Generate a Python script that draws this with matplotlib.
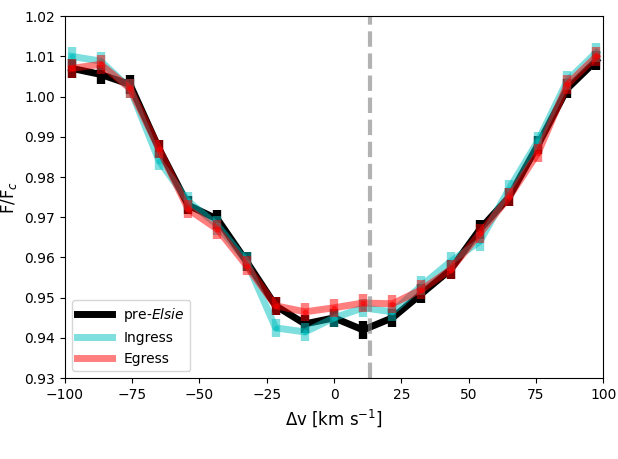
import numpy as np
import matplotlib
matplotlib.use("Agg")
import matplotlib.pyplot as plt

dv = np.array([-97.5, -86.7, -75.8, -65.0, -54.2, -43.3, -32.5, -21.7, -10.8, 0.0,
               10.8, 21.7, 32.5, 43.3, 54.2, 65.0, 75.8, 86.7, 97.5])
pre = [1.007, 1.0055, 1.003, 0.987, 0.973, 0.9695, 0.959, 0.948, 0.9435, 0.945,
       0.942, 0.945, 0.951, 0.957, 0.967, 0.975, 0.988, 1.002, 1.009]
ingress = [1.010, 1.0088, 1.002, 0.984, 0.974, 0.968, 0.959, 0.9425, 0.9415, 0.945,
           0.9475, 0.9465, 0.953, 0.959, 0.964, 0.977, 0.989, 1.004, 1.011]
egress = [1.007, 1.008, 1.002, 0.987, 0.972, 0.967, 0.958, 0.948, 0.9465, 0.9475,
          0.9487, 0.9485, 0.952, 0.957, 0.966, 0.975, 0.986, 1.003, 1.010]
err = 0.0023

fig, ax = plt.subplots(figsize=(6.18, 4.59), dpi=100)
ax.errorbar(dv, pre, yerr=err, color='k', fmt='none', elinewidth=6)
ax.plot(dv, pre, color='k', lw=5, label='pre-$Elsie$')
ax.errorbar(dv, ingress, yerr=err, color='c', alpha=0.5, fmt='none', elinewidth=6)
ax.plot(dv, ingress, '-o', color='c', alpha=0.5, lw=5, ms=3, label='Ingress')
ax.errorbar(dv, egress, yerr=err, color='r', alpha=0.5, fmt='none', elinewidth=6)
ax.plot(dv, egress, '-o', color='r', alpha=0.5, lw=5, ms=3, label='Egress')
ax.axvline(13.5, color='gray', ls='--', lw=3, alpha=0.6)
ax.set_xlim(-100, 100)
ax.set_ylim(0.93, 1.02)
ax.set_xticks([-100, -75, -50, -25, 0, 25, 50, 75, 100])
ax.set_xlabel(r'$\Delta$v [km s$^{-1}$]', fontsize=12)
ax.set_ylabel(r'F/F$_c$', fontsize=12)
leg = ax.legend(loc='lower left', handlelength=2.5)
for h in leg.get_lines():
    h.set_marker('')
fig.subplots_adjust(left=0.105, right=0.976, top=0.965, bottom=0.176)
fig.savefig('out.png')
